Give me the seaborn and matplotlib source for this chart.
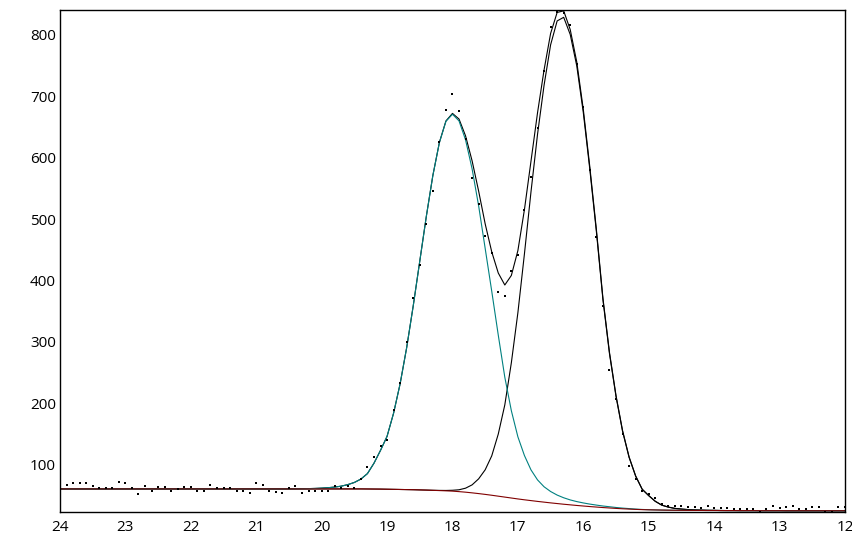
import numpy as np
import pandas as pd
import seaborn as sns
import matplotlib.pyplot as plt

# retention axis, sampled every 0.1 from 24 down to 12
x = np.round(np.arange(240, 119, -1) / 10, 1)

# measured signal (dots)
signal = [
    68, 67, 70, 70, 70, 65, 62, 62, 62, 72,
    70, 62, 53, 66, 57, 64, 64, 57, 61, 64,
    64, 58, 58, 68, 62, 62, 62, 58, 57, 55,
    70, 68, 58, 56, 55, 62, 65, 54, 58, 57,
    58, 57, 66, 63, 66, 62, 77, 96, 113, 130,
    141, 189, 234, 300, 372, 425, 492, 546, 625, 677,
    703, 675, 630, 567, 525, 473, 444, 381, 375, 415,
    441, 514, 568, 648, 740, 812, 836, 835, 816, 752,
    683, 580, 470, 358, 255, 208, 151, 99, 77, 58,
    53, 46, 37, 34, 34, 33, 31, 32, 30, 33,
    30, 30, 30, 29, 29, 29, 29, 24, 28, 33,
    30, 31, 33, 29, 29, 31, 31, 24, 24, 31,
    31,
]

# fitted baseline
baseline = [
    61, 61, 61, 61, 61, 61, 61, 61, 61, 61,
    61, 61, 61, 61, 61, 61, 61, 61, 61, 61,
    61, 61, 61, 61, 61, 61, 61, 61, 61, 61,
    61, 61, 61, 61, 61, 61, 61, 61, 61, 61,
    61, 61, 61, 61, 61, 61, 61, 60.9, 60.8, 60.7,
    60.5, 60.3, 60.1, 59.9, 59.7, 59.4, 59.1, 58.7, 58.3, 57.9,
    57.4, 56.6, 55.7, 54.6, 53.4, 52.1, 50.7, 49.2, 47.7, 46.2,
    44.7, 43.3, 42.0, 40.7, 39.5, 38.3, 37.2, 36.1, 35.1, 34.1,
    33.2, 32.3, 31.5, 30.7, 30.0, 29.3, 28.7, 28.2, 27.7, 27.3,
    27.0, 26.8, 26.6, 26.4, 26.3, 26.2, 26.1, 26.0, 26.0, 25.9,
    25.9, 25.8, 25.8, 25.8, 25.7, 25.7, 25.7, 25.6, 25.6, 25.6,
    25.6, 25.5, 25.5, 25.5, 25.5, 25.5, 25.5, 25.5, 25.5, 25.5,
    25.5,
]

# fitted peak 1 (above baseline)
peak1 = [
    0, 0, 0, 0, 0, 0, 0, 0, 0, 0,
    0, 0, 0, 0, 0, 0, 0, 0, 0, 0,
    0, 0, 0, 0, 0, 0, 0, 0, 0, 0,
    0, 0, 0, 0, 0, 0.1, 0.2, 0.3, 0.5, 0.8,
    1.3, 2, 3, 4.5, 7, 10.5, 16, 25, 42, 63,
    86, 124, 172, 231, 299, 372, 445, 512, 566, 601,
    613, 603, 573, 527, 468, 400, 332, 262, 195, 142,
    101, 72, 50, 35, 25, 18.5, 13.8, 10.5, 8, 6.3,
    5, 4, 3.2, 2.5, 2, 1.5, 1.1, 0.8, 0.5, 0.3,
    0.2, 0.1, 0, 0, 0, 0, 0, 0, 0, 0,
    0, 0, 0, 0, 0, 0, 0, 0, 0, 0,
    0, 0, 0, 0, 0, 0, 0, 0, 0, 0,
    0,
]

# fitted peak 2 (above baseline)
peak2 = [
    0, 0, 0, 0, 0, 0, 0, 0, 0, 0,
    0, 0, 0, 0, 0, 0, 0, 0, 0, 0,
    0, 0, 0, 0, 0, 0, 0, 0, 0, 0,
    0, 0, 0, 0, 0, 0, 0, 0, 0, 0,
    0, 0, 0, 0, 0, 0, 0, 0, 0, 0,
    0, 0, 0, 0, 0, 0, 0, 0.1, 0.3, 0.6,
    1.4, 3, 6.5, 13, 24, 40, 64, 101, 150, 220,
    303, 400, 502, 597, 678, 745, 785, 792, 765, 715,
    640, 548, 448, 338, 251, 182, 126, 84, 54, 33,
    23, 14, 8, 5, 3, 2, 1.3, 0.8, 0.5, 0.3,
    0.2, 0.1, 0, 0, 0, 0, 0, 0, 0, 0,
    0, 0, 0, 0, 0, 0, 0, 0, 0, 0,
    0,
]

df = pd.DataFrame({"x": x, "signal": signal, "baseline": baseline,
                   "peak1": peak1, "peak2": peak2})
df["curve1"] = df["baseline"] + df["peak1"]
df["curve2"] = df["baseline"] + df["peak2"]
df["total"] = df["baseline"] + df["peak1"] + df["peak2"]

sns.set_style("white")
plt.rcParams["font.family"] = ["Open Sans", "DejaVu Sans"]

fig = plt.figure(figsize=(8.53, 5.4), dpi=100)
ax = fig.add_axes([0.0703, 0.0519, 0.9203, 0.9296])

lw = 0.8
sns.lineplot(data=df, x="x", y="total", color="black", lw=lw, estimator=None, ax=ax)
sns.lineplot(data=df, x="x", y="curve2", color="black", lw=lw, estimator=None, ax=ax)
sns.lineplot(data=df, x="x", y="curve1", color="#008080", lw=lw, estimator=None, ax=ax)
sns.lineplot(data=df, x="x", y="baseline", color="#800000", lw=lw, estimator=None, ax=ax)
sns.scatterplot(data=df, x="x", y="signal", color="black", marker="s", s=4,
                linewidth=0, ax=ax, zorder=5)

ax.set_xlim(24, 12)
ax.set_ylim(23.5, 840)
ax.set_xticks(range(24, 11, -1))
ax.set_yticks(range(100, 900, 100))
ax.set_xlabel("")
ax.set_ylabel("")
ax.tick_params(direction="in", length=3, width=0.8, labelsize=11,
               colors="black")
ax.tick_params(axis="y", pad=3)
ax.tick_params(axis="x", pad=6)
for s in ax.spines.values():
    s.set_color("black")
    s.set_linewidth(1.0)

fig.savefig("out.png", dpi=100)
